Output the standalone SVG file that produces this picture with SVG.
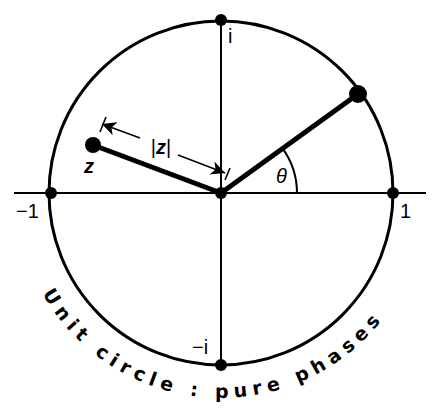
<svg xmlns="http://www.w3.org/2000/svg" width="434" height="408" viewBox="0 0 434 408">
<style>
.lbl{font-family:"Liberation Sans",Arial,sans-serif;font-size:20px;fill:#000}
.it{font-style:italic;font-weight:bold}
.thin{stroke:#000;stroke-width:2;fill:none}
.thick{stroke:#000;stroke-width:5;fill:none;stroke-linecap:round}
.arr{stroke:#000;stroke-width:1.6;fill:none}
.dot{fill:#000}
</style>
<defs>
<marker id="ah" markerUnits="userSpaceOnUse" markerWidth="16" markerHeight="14" refX="14" refY="7" orient="auto">
<path d="M0,0 L14,7 L0,14 L4,7 Z" fill="#000"/>
</marker>
<path id="tp" d="M 16,193 A 205 205 0 0 0 426,193"/>
</defs>
<g id="connectors">
<circle cx="221" cy="193" r="172" fill="none" stroke="#000" stroke-width="3"/>
<line class="thin" x1="14" y1="193" x2="426" y2="193"/>
<line class="thin" x1="221" y1="20" x2="221" y2="365"/>
<line class="thick" x1="221" y1="193" x2="358" y2="94"/>
<line class="thick" x1="221" y1="193" x2="93" y2="145"/>
<path class="thin" d="M297,193 A76 76 0 0 0 282.5,148.3"/>
<line class="arr" x1="140" y1="138" x2="102" y2="124" marker-end="url(#ah)"/>
<line class="arr" x1="178" y1="155" x2="225" y2="173" marker-end="url(#ah)"/>
<line class="arr" x1="100" y1="132" x2="106" y2="117"/>
<line class="arr" x1="230" y1="168" x2="225" y2="180"/>
</g>
<g id="n-center"><circle class="dot" cx="221" cy="193" r="6"/></g>
<g id="n-i"><circle class="dot" cx="221" cy="20" r="6"/><text class="lbl" x="228" y="43">i</text></g>
<g id="n-minus-i"><circle class="dot" cx="221" cy="365" r="6"/><text class="lbl" x="192" y="354">−i</text></g>
<g id="n-minus-1"><circle class="dot" cx="51" cy="193" r="6"/><text class="lbl" x="16" y="218">−1</text></g>
<g id="n-1"><circle class="dot" cx="393" cy="193" r="6"/><text class="lbl" x="400" y="218">1</text></g>
<g id="n-z"><circle class="dot" cx="93" cy="145" r="8"/><text class="lbl it" x="84" y="173" font-size="18">z</text></g>
<g id="n-phase"><circle class="dot" cx="358" cy="94" r="9"/></g>
<g id="labels">
<text class="lbl" x="161" y="154" text-anchor="middle"><tspan>|</tspan><tspan class="it">z</tspan><tspan>|</tspan></text>
<text class="lbl" x="276" y="183" font-style="italic" font-size="18">θ</text>
<text font-family="'DejaVu Sans',sans-serif" font-weight="bold" font-size="19" fill="#000"><textPath href="#tp" startOffset="47.4%" text-anchor="middle" textLength="400" lengthAdjust="spacing">Unit circle : pure phases</textPath></text>
</g>
</svg>
